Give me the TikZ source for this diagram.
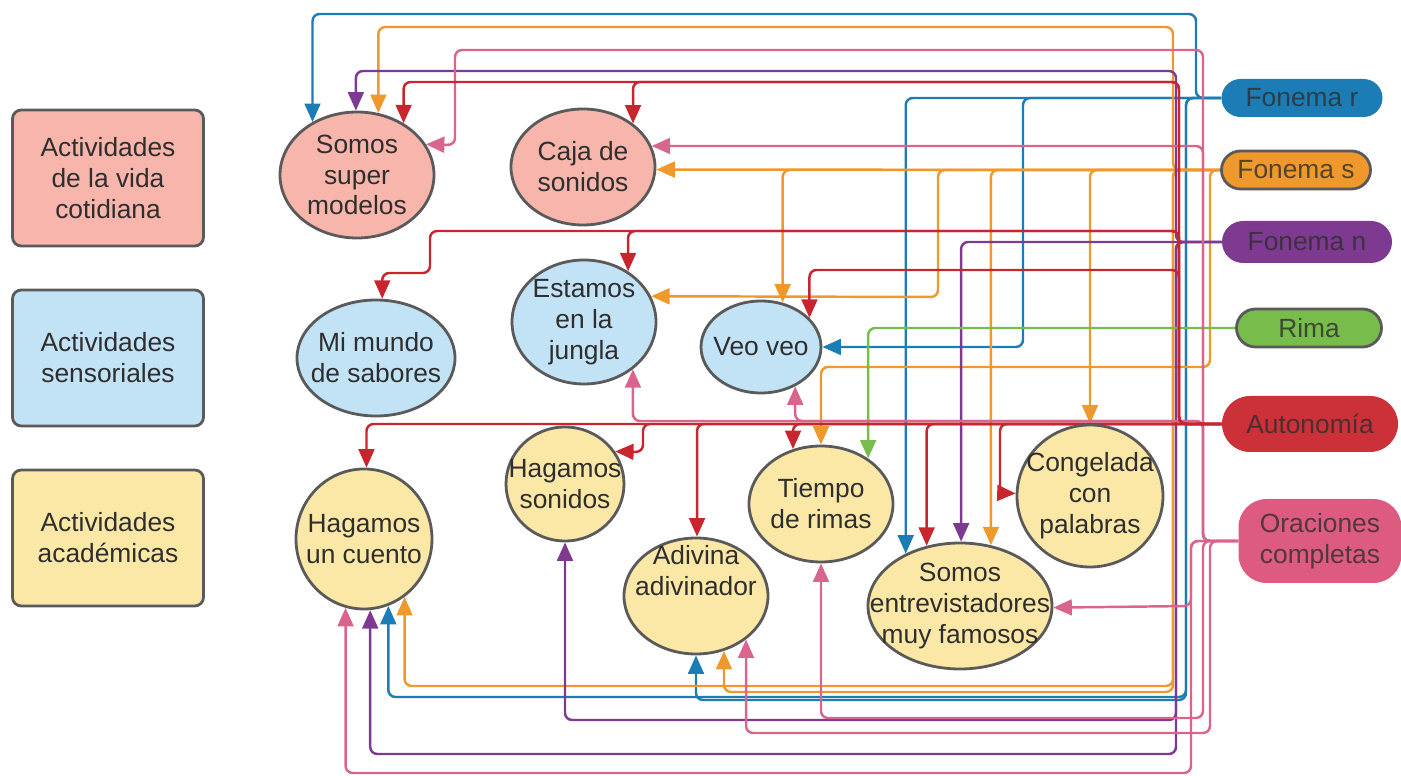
\documentclass[tikz,border=0pt]{standalone}
\usepackage{fontspec}
\setmainfont{Liberation Sans}
\usetikzlibrary{shapes.geometric,shapes.misc,arrows.meta,backgrounds}
\definecolor{salmon}{HTML}{F8B5AB}
\definecolor{skyb}{HTML}{C2E2F6}
\definecolor{sand}{HTML}{FCE8A6}
\definecolor{edge}{HTML}{5A5A5A}
\definecolor{txt}{HTML}{2E2E2E}
\definecolor{cB}{HTML}{1C7DB6}
\definecolor{cS}{HTML}{EF982C}
\definecolor{cN}{HTML}{7E3A90}
\definecolor{cG}{HTML}{78BC4C}
\definecolor{cA}{HTML}{C9252F}
\definecolor{cO}{HTML}{D9658F}
\newcommand{\pxu}{0.02cm}
\tikzset{x=0.02cm,y=-0.02cm,
  every node/.style={font=\fontsize{15}{17.6}\selectfont,text=txt,align=center},
  cat/.style={draw=edge,line width=1.6pt,rounded corners=5pt,minimum width=191*\pxu,minimum height=136*\pxu},
  act/.style 2 args={ellipse,draw=edge,line width=1.6pt,inner sep=-30pt,minimum width=#1*\pxu,minimum height=#2*\pxu},
  tag/.style={rounded rectangle,inner sep=0pt,minimum height=38*\pxu,text opacity=.8},
  link/.style={line width=1.4pt,rounded corners=4pt,-{Triangle[length=10.5pt,width=9pt]}}}

\begin{document}
\begin{tikzpicture}
    \useasboundingbox (0,0) rectangle (1401,776);
    % categories
    \node[cat,fill=salmon] (vida) at (108,178) {Actividades\\de la vida\\cotidiana};
    \node[cat,fill=skyb] (sens) at (108,358) {Actividades\\sensoriales};
    \node[cat,fill=sand] (acad) at (108,538) {Actividades\\académicas};
    % activities
    \node[act={154}{126},fill=salmon] (smod) at (357,175) {Somos\\super\\modelos};
    \node[act={144}{116},fill=salmon] (caja) at (583,167) {Caja de\\sonidos};
    \node[act={158}{116},fill=skyb] (mimu) at (376,358) {Mi mundo\\de sabores};
    \node[act={144}{124},fill=skyb] (jung) at (584,322) {Estamos\\en la\\jungla};
    \node[act={120}{92},fill=skyb] (veo) at (761,347) {Veo veo};
    \node[act={136}{140},fill=sand] (cuen) at (364,539) {Hagamos\\un cuento};
    \node[act={118}{114},fill=sand] (hson) at (565,484) {Hagamos\\sonidos};
    \node[act={144}{116},fill=sand] (adiv) at (696,596) {Adivina\\adivinador\\[12pt]};
    \node[act={144}{116},fill=sand] (tiem) at (821,504) {Tiempo\\de rimas};
    \node[act={184}{126},fill=sand] (entr) at (960,606) {Somos\\entrevistadores\\muy famosos};
    \node[act={146}{142},fill=sand] (cong) at (1090,496) {Congelada\\con\\palabras};
    % skills
    \node[tag,fill=cB,minimum width=161*\pxu] (fr) at (1302,98) {Fonema r};
    \node[tag,fill=cS,draw=edge,line width=1.6pt,minimum width=149*\pxu] (fs) at (1296,170) {Fonema s};
    \node[tag,fill=cN,minimum width=170*\pxu,minimum height=42*\pxu] (fn) at (1307,242) {Fonema n};
    \node[tag,fill=cG,draw=edge,line width=1.6pt,minimum width=145*\pxu] (rima) at (1309,328) {Rima};
    \node[tag,fill=cA!95!white,minimum width=176*\pxu,minimum height=56*\pxu] (auto) at (1310,424) {Autonomía};
    \node[fill=cO!90!red,rounded corners=16pt,text opacity=.8,minimum width=163*\pxu,minimum height=84*\pxu] (orac) at (1320,541) {Oraciones\\completas};

    \begin{scope}[on background layer]
    % Fonema r
    \draw[link,cB] (fr.west) -| (1196,14) -| (smod.130);
    \draw[link,cB] (fr.west) -| (1023,347) -- (veo.east);
    \draw[link,cB] (fr.west) -| (entr.136);
    \draw[link,cB] (fr.west) -| (1186,697) -| (cuen.-70);
    \draw[link,cB] (fr.west) -| (1186,700) -| (adiv.south);
    % Fonema s
    \draw[link,cS] (fs.west) -| (1173,27) -| (smod.71);
    \draw[link,cS] (fs.west) -- (caja.-2);
    \draw[link,cS] (fs.west) -| (veo.64);
    \draw[link,cS] (fs.west) -| (938,297) -- (jung.21);
    \draw[link,cS] (fs.west) -| (entr.63);
    \draw[link,cS] (fs.west) -| (cong.north);
    \draw[link,cS] (fs.west) -| (1210,367) -| (tiem.north);
    \draw[link,cS] (fs.west) -| (1173,686) -| (cuen.-55);
    \draw[link,cS] (fs.west) -| (1173,692) -| (adiv.-63);
    % Fonema n
    \draw[link,cN] (fn.west) -| (1176,71) -| (smod.91);
    \draw[link,cN] (fn.west) -| (entr.89);
    \draw[link,cN] (fn.west) -| (1176,720) -| (hson.south);
    \draw[link,cN] (fn.west) -| (1176,754) -| (cuen.-85);
    % Rima
    \draw[link,cG] (rima.west) -| (tiem.44);
    % Oraciones completas
    \draw[link,cO] (orac.west) -| (1203,50) -| (455,145) -- (smod.24);
    \draw[link,cO] (orac.west) -| (1203,146) -- (caja.17);
    \draw[link,cO] (orac.west) -| (1203,421) -| (jung.-44);
    \draw[link,cO] (orac.west) -| (1203,421) -| (veo.-49);
    \draw[link,cO] (orac.west) -| (1191,606) -- (entr.-1);
    \draw[link,cO] (orac.west) -| (1191,773) -| (cuen.-105);
    \draw[link,cO] (orac.west) -| (1203,718) -| (tiem.south);
    \draw[link,cO] (orac.west) -| (1210,733) -| (adiv.-41);
    % Autonomia
    \draw[link,cA] (auto.west) -| (1179,82) -| (smod.48);
    \draw[link,cA] (auto.west) -| (1179,82) -| (caja.41);
    \draw[link,cA] (auto.west) -| (1179,231) -| (430,273) -| (mimu.84);
    \draw[link,cA] (auto.west) -| (1179,231) -| (jung.49);
    \draw[link,cA] (auto.west) -| (1179,270) -| (veo.31);
    \draw[link,cA] (auto.west) -| (cuen.88);
    \draw[link,cA] (auto.west) -| (643,452) -- (hson.33);
    \draw[link,cA] (auto.west) -| (adiv.89);
    \draw[link,cA] (auto.west) -| (tiem.117);
    \draw[link,cA] (auto.west) -| (entr.119);
    \draw[link,cA] (auto.west) -| (1000,493) -- (cong.178);
    \end{scope}
\end{tikzpicture}
\end{document}
